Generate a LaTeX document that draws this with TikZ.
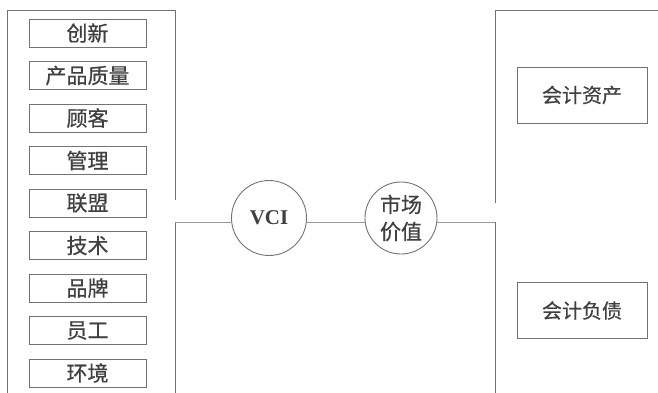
\documentclass[tikz,border=0pt]{standalone}
\usepackage{fontspec}
\setmainfont{Liberation Serif}
\newfontfamily\cjk[FakeBold=0.6]{Noto Sans CJK SC}
\begin{document}
\begin{tikzpicture}[x=1pt,y=-1pt,
  frame/.style={draw=black!55,line width=0.9pt},
  item/.style={draw=black!55,line width=0.9pt,minimum width=117pt,minimum height=28pt,inner sep=0pt,
    font=\cjk\fontsize{21}{24}\selectfont,text=black!75},
  acct/.style={draw=black!55,line width=0.9pt,minimum width=130pt,minimum height=56pt,inner sep=0pt,
    font=\cjk\fontsize{20}{24}\selectfont,text=black!75},
  ring/.style={draw=black!55,line width=0.9pt,circle,inner sep=0pt,text=black!75},
  conn/.style={draw=black!40,line width=0.8pt}]
\useasboundingbox (0,0) rectangle (658,392);
\clip (0,0) rectangle (658,392);
% left frame
\draw[frame] (175,200) -- (175,10) -- (7,10) -- (7,400);
\draw[frame] (175,222) -- (175,400);
\coordinate (lc) at (175,222);
% right frame
\draw[frame] (670,10) -- (495,10) -- (495,203);
\draw[frame] (495,222) -- (495,400);
\coordinate (rc) at (495,222);
% items
\node[item] (i1) at (87.5,33) {创新};
\node[item] (i2) at (87.5,75.5) {产品质量};
\node[item] (i3) at (87.5,118) {顾客};
\node[item] (i4) at (87.5,160.5) {管理};
\node[item] (i5) at (87.5,203) {联盟};
\node[item] (i6) at (87.5,245.5) {技术};
\node[item] (i7) at (87.5,288) {品牌};
\node[item] (i8) at (87.5,330.5) {员工};
\node[item] (i9) at (87.5,373) {环境};
% circles
\node[ring,minimum size=75pt,font=\bfseries\fontsize{21}{24}\selectfont] (vci) at (269,218) {VCI};
\node[ring,minimum size=72pt,align=center,font=\cjk\fontsize{21}{27}\selectfont] (mv) at (401,218) {市场\\价值};
% accounts
\node[acct] (a1) at (582,95) {会计资产};
\node[acct] (a2) at (582,310.5) {会计负债};
% connectors
\draw[conn] (lc) -- (vci.west |- lc);
\draw[conn] (vci.east |- lc) -- (mv.west |- lc);
\draw[conn] (mv.east |- rc) -- (rc);
\end{tikzpicture}
\end{document}
